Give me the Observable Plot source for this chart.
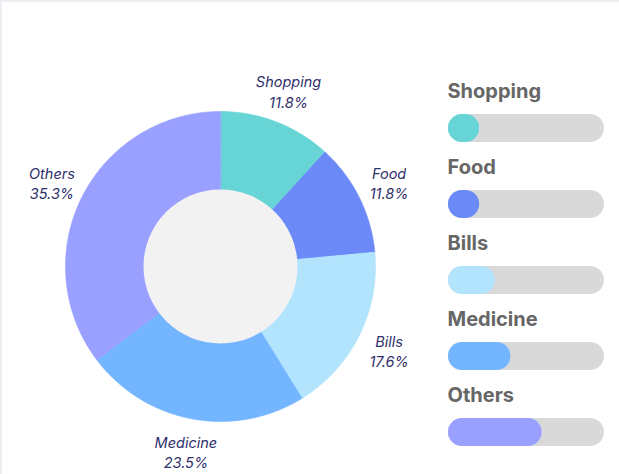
<!DOCTYPE html>
<html>
<head>
<meta charset="utf-8">
<script src="https://cdn.jsdelivr.net/npm/d3@7"></script>
<script src="https://cdn.jsdelivr.net/npm/@observablehq/plot@0.6"></script>
<style>
  html, body { margin: 0; padding: 0; background: #fff; }
  #wrap { position: relative; width: 619px; height: 474px; box-sizing: border-box;
          border-top: 2px solid #ededf4; border-left: 2px solid #ededf4; overflow: hidden; }
  #pie { position: absolute; left: -2px; top: -2px; }
  #legend { position: absolute; left: -2px; top: -2px; }
</style>
</head>
<body>
<div id="wrap"><div id="pie"></div><div id="legend"></div></div>
<script>
// ---- data ----
const categories = ["Shopping", "Food", "Bills", "Medicine", "Others"];
const values = [2, 2, 3, 4, 6];
const colors = ["#67d5d5", "#6b8af7", "#b2e5fd", "#74b5ff", "#99a0ff"];
const legendMax = 10;

const total = d3.sum(values);
const rows = categories.map((c, i) => ({category: c, value: values[i], color: colors[i],
  pct: (values[i] / total * 100).toFixed(1) + "%"}));

// angles from d3.pie (clockwise from 12 o'clock)
const arcs = d3.pie().sort(null).value(d => d.value)(rows);

// slice polygons in unit data space (outer radius = 1)
function slicePoints(a) {
  const pts = [{x: 0, y: 0}];
  const n = Math.max(8, Math.ceil((a.endAngle - a.startAngle) / 0.01));
  for (let k = 0; k <= n; k++) {
    const t = a.startAngle + (a.endAngle - a.startAngle) * k / n;
    pts.push({x: Math.sin(t), y: Math.cos(t)});
  }
  return pts;
}

const labelR = 1.215;
const labels = arcs.map(a => {
  const m = (a.startAngle + a.endAngle) / 2;
  return {x: labelR * Math.sin(m), y: labelR * Math.cos(m), text: a.data.category + "\n" + a.data.pct};
});

const R = 155; // px per unit
const pie = Plot.plot({
  width: 440, height: 474,
  margin: 0,
  x: {domain: [-220 / R, 220 / R], axis: null},
  y: {domain: [-208 / R, 266 / R], axis: null},
  marks: [
    ...arcs.map(a => Plot.line(slicePoints(a), {
      x: "x", y: "y", curve: "linear-closed",
      fill: a.data.color, stroke: a.data.color, strokeWidth: 0.6
    })),
    Plot.dot([{x: 0, y: 0}], {x: "x", y: "y", r: 77, fill: "#f2f2f2", stroke: "none"}),
    Plot.text(labels, {
      x: "x", y: "y", text: "text",
      fontSize: 14.5, fontStyle: "italic", fill: "#2f2f6c", lineHeight: 1.4,
      fontFamily: "Inter"
    })
  ],
  style: {fontFamily: "Inter", background: "transparent"}
});
document.getElementById("pie").appendChild(pie);

const legend = Plot.plot({
  width: 619, height: 474,
  margin: 0,
  x: {domain: [0, legendMax], range: [448, 604], axis: null},
  y: {type: "band", domain: categories, range: [113.5, 447], paddingInner: 48 / 76, paddingOuter: 0, align: 0, axis: null},
  marks: [
    Plot.barX(rows, {y: "category", x1: 0, x2: legendMax, fill: "#d9d9d9", rx: 14}),
    Plot.barX(rows, {y: "category", x1: 0, x2: "value", fill: "color", rx: 14}),
    Plot.text(rows, {
      y: "category", x: 0, text: "category", textAnchor: "start", dy: -37, dx: -1,
      fontSize: 20, fontWeight: "bold", fill: "#666666", fontFamily: "Inter"
    })
  ],
  color: {type: "identity"},
  style: {background: "transparent"}
});
document.getElementById("legend").appendChild(legend);
</script>
</body>
</html>
